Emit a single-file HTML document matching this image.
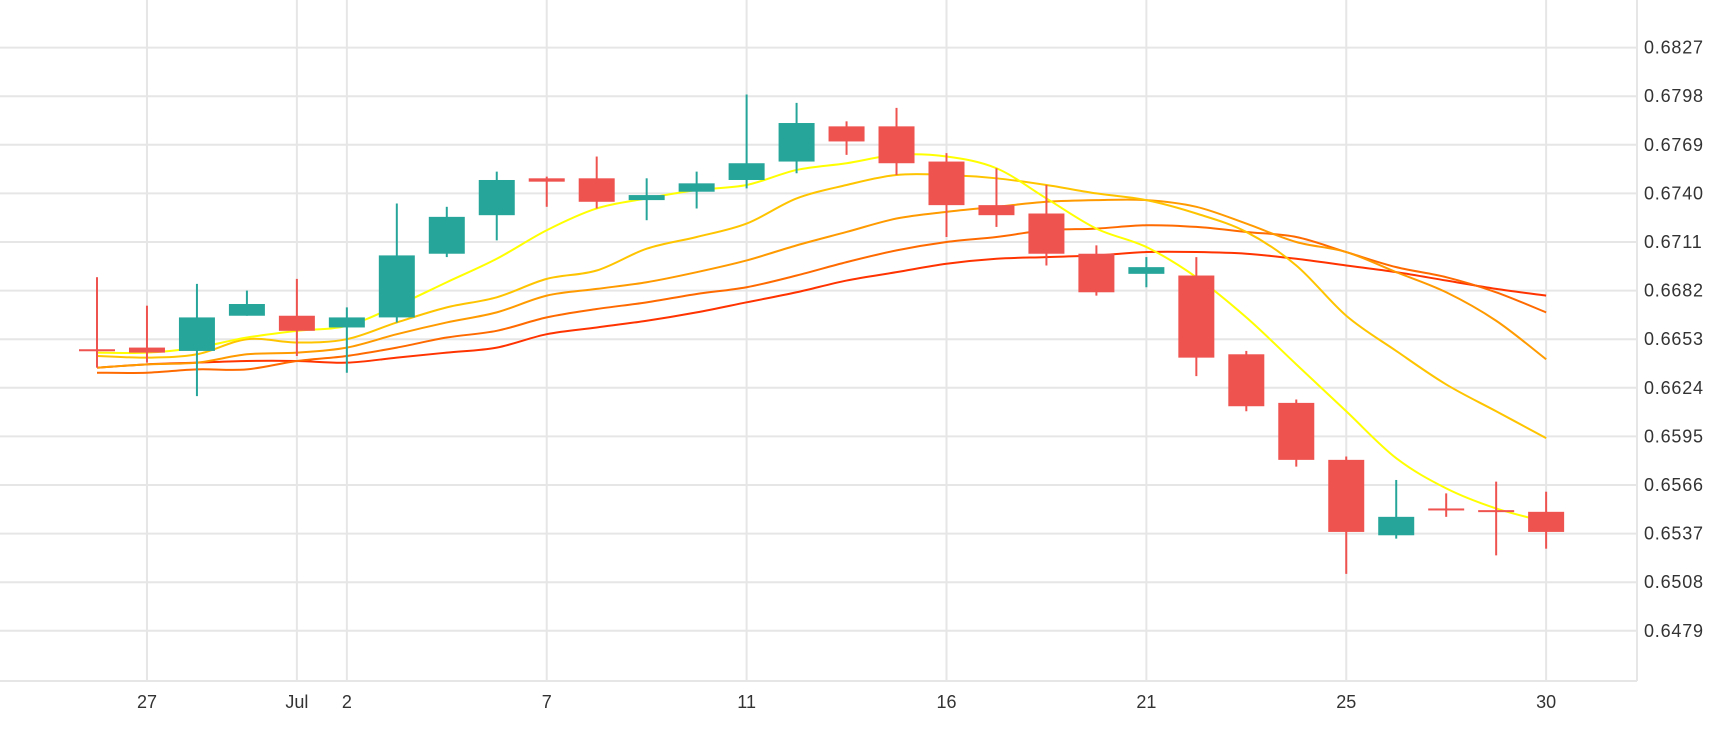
<!DOCTYPE html>
<html><head><meta charset="utf-8"><style>
html,body{margin:0;padding:0;background:#fff;}
svg{display:block;font-family:"Liberation Sans",sans-serif;}
</style></head><body>
<svg id="chart" width="1730" height="730" viewBox="0 0 1730 730" xmlns="http://www.w3.org/2000/svg">
<g id="grid"></g>
<g id="mas"></g>
<g id="candles"></g>
<g id="axes"></g>
</svg>
<script>
const xLabels = ["","27","","","Jul","2","","","","7","","","","11","","","","16","","","","21","","","","25","","","","30"];
const open  = [0.6647,0.6648,0.6646,0.6667,0.6667,0.6660,0.6666,0.6704,0.6727,0.6749,0.6749,0.6736,0.6741,0.6748,0.6759,0.6780,0.6780,0.6759,0.6733,0.6728,0.6704,0.6692,0.6691,0.6644,0.6615,0.6581,0.6536,0.6552,0.6551,0.6550];
const close = [0.6647,0.6645,0.6666,0.6674,0.6658,0.6666,0.6703,0.6726,0.6748,0.6747,0.6735,0.6739,0.6746,0.6758,0.6782,0.6771,0.6758,0.6733,0.6727,0.6704,0.6681,0.6696,0.6642,0.6613,0.6581,0.6538,0.6547,0.6552,0.6551,0.6538];
const high  = [0.6690,0.6673,0.6686,0.6682,0.6689,0.6672,0.6734,0.6732,0.6753,0.6750,0.6762,0.6749,0.6753,0.6799,0.6794,0.6783,0.6791,0.6764,0.6755,0.6745,0.6709,0.6702,0.6702,0.6646,0.6617,0.6583,0.6569,0.6561,0.6568,0.6562];
const low   = [0.6636,0.6639,0.6619,0.6667,0.6643,0.6633,0.6663,0.6702,0.6712,0.6732,0.6731,0.6724,0.6731,0.6743,0.6752,0.6763,0.6751,0.6714,0.6720,0.6697,0.6679,0.6684,0.6631,0.6610,0.6577,0.6513,0.6534,0.6547,0.6524,0.6528];
const maYellow = [0.6645,0.6645,0.6648,0.6654,0.6658,0.6661,0.6673,0.6687,0.6701,0.6718,0.6731,0.6737,0.6742,0.6745,0.6754,0.6758,0.6763,0.6762,0.6755,0.6737,0.6719,0.6708,0.6690,0.6666,0.6638,0.6610,0.6582,0.6564,0.6552,0.6544];
const maGold   = [0.6643,0.6642,0.6644,0.6653,0.6651,0.6653,0.6663,0.6672,0.6678,0.6689,0.6694,0.6707,0.6714,0.6722,0.6737,0.6745,0.6751,0.6751,0.6749,0.6745,0.6740,0.6736,0.6728,0.6717,0.6697,0.6667,0.6646,0.6626,0.6610,0.6594];
const maOrange = [0.6636,0.6638,0.6639,0.6644,0.6645,0.6648,0.6656,0.6663,0.6669,0.6679,0.6683,0.6687,0.6693,0.6700,0.6709,0.6717,0.6725,0.6729,0.6732,0.6735,0.6736,0.6736,0.6732,0.6722,0.6711,0.6705,0.6693,0.6681,0.6664,0.6641];
const maDark   = [0.6633,0.6633,0.6635,0.6635,0.6640,0.6643,0.6648,0.6654,0.6658,0.6666,0.6671,0.6675,0.6680,0.6684,0.6691,0.6699,0.6706,0.6711,0.6714,0.6718,0.6719,0.6721,0.6720,0.6717,0.6714,0.6705,0.6696,0.6690,0.6681,0.6669];
const maRed    = [0.6636,0.6638,0.6639,0.6640,0.6640,0.6639,0.6642,0.6645,0.6648,0.6656,0.6660,0.6664,0.6669,0.6675,0.6681,0.6688,0.6693,0.6698,0.6701,0.6702,0.6703,0.6705,0.6705,0.6704,0.6701,0.6697,0.6693,0.6688,0.6683,0.6679];
const yTicks = ["0.6827","0.6798","0.6769","0.6740","0.6711","0.6682","0.6653","0.6624","0.6595","0.6566","0.6537","0.6508","0.6479"];

const NS="http://www.w3.org/2000/svg";
const PR=1637, PB=681;
function xS(i){return 97+i*49.97;}
function yS(p){return 242+(0.6711-p)/0.0029*48.6;}
function mk(tag,attrs,parent){const e=document.createElementNS(NS,tag);for(const k in attrs)e.setAttribute(k,attrs[k]);parent.appendChild(e);return e;}
const grid=document.getElementById('grid'),axes=document.getElementById('axes'),cg=document.getElementById('candles'),mg=document.getElementById('mas');

yTicks.forEach(t=>{
  const y=yS(parseFloat(t));
  const l=mk('line',{x1:0,x2:PR,y1:y,y2:y,stroke:'#e6e6e6','stroke-width':2},grid);
  
  
  const tx=mk('text',{x:1644,y:y+6,'font-size':18,fill:'#333','letter-spacing':'0.8'},axes);
  tx.textContent=t;
  
  
});
xLabels.forEach((t,i)=>{
  if(!t)return;
  const x=xS(i);
  const l=mk('line',{x1:x,x2:x,y1:0,y2:PB,stroke:'#e6e6e6','stroke-width':2},grid);
  
  
  const tx=mk('text',{x:x,y:708,'font-size':18,fill:'#333','text-anchor':'middle'},axes);
  tx.textContent=t;
  
  
});
const bb=mk('line',{x1:0,x2:PR,y1:PB,y2:PB,stroke:'#e6e6e6','stroke-width':2},axes);


const rb=mk('line',{x1:PR,x2:PR,y1:0,y2:PB,stroke:'#e6e6e6','stroke-width':2},axes);



function smooth(vals){
  const pts=vals.map((v,i)=>[xS(i),yS(v)]);
  let d='M'+pts[0][0]+','+pts[0][1];
  for(let i=0;i<pts.length-1;i++){
    const p0=pts[Math.max(0,i-1)],p1=pts[i],p2=pts[i+1],p3=pts[Math.min(pts.length-1,i+2)];
    const c1=[p1[0]+(p2[0]-p0[0])/6,p1[1]+(p2[1]-p0[1])/6];
    const c2=[p2[0]-(p3[0]-p1[0])/6,p2[1]-(p3[1]-p1[1])/6];
    d+=' C'+c1[0]+','+c1[1]+' '+c2[0]+','+c2[1]+' '+p2[0]+','+p2[1];
  }
  return d;
}
[[maRed,'#ff3300','ma-red'],[maDark,'#ff6a00','ma-dark-orange'],[maOrange,'#ff9a00','ma-orange'],[maGold,'#ffc400','ma-gold'],[maYellow,'#ffff00','ma-yellow']].forEach(s=>{
  const p=mk('path',{d:smooth(s[0]),fill:'none',stroke:s[1],'stroke-width':2},mg);
  
  
});

open.forEach((o,i)=>{
  const c=close[i],up=c>o,col=up?'#26a69a':'#ef5350';
  const x=xS(i);
  const g=mk('g',{},cg);
  
  
  mk('line',{x1:x,x2:x,y1:yS(high[i]),y2:yS(low[i]),stroke:col,'stroke-width':2},g);
  const top=yS(Math.max(o,c)),bot=yS(Math.min(o,c));
  mk('rect',{x:x-18,y:top,width:36,height:Math.max(2,bot-top),fill:col},g);
});
</script>
</body></html>
